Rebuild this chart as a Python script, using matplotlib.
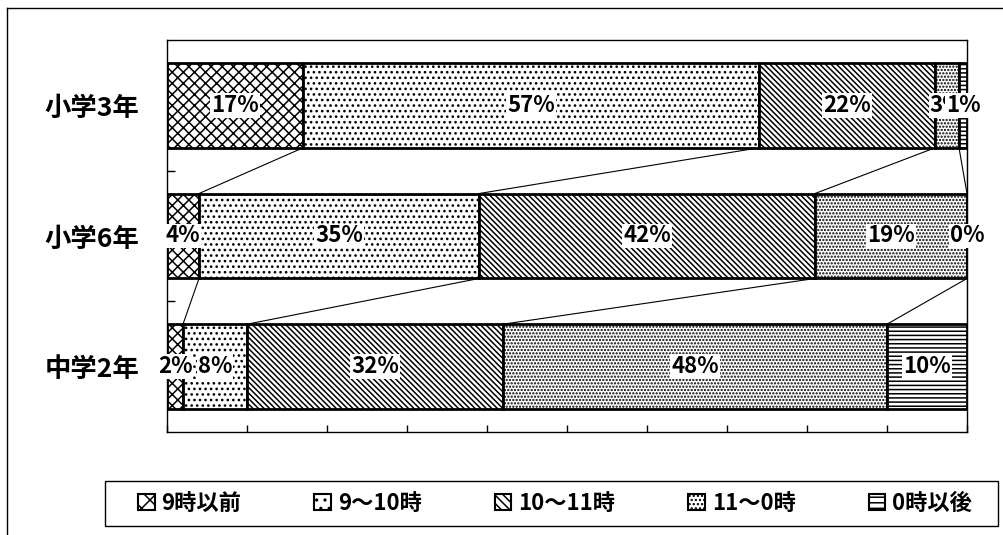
import matplotlib
matplotlib.use('Agg')
import matplotlib.pyplot as plt
from matplotlib.patches import Patch, Rectangle
from matplotlib.lines import Line2D
import numpy as np

plt.rcParams['font.family'] = ['Noto Sans CJK JP', 'DejaVu Sans']
plt.rcParams['hatch.linewidth'] = 1.1
plt.rcParams['hatch.color'] = 'black'

# ---- data ----
categories = ['小学3年', '小学6年', '中学2年']
series_names = ['9時以前', '9～10時', '10～11時', '11～0時', '0時以後']
v_before9 = [17, 4, 2]
v_9_10 = [57, 35, 8]
v_10_11 = [22, 42, 32]
v_11_0 = [3, 19, 48]
v_after0 = [1, 0, 10]
x_ticks = list(range(0, 101, 10))

series = [v_before9, v_9_10, v_10_11, v_11_0, v_after0]
hatches = ['xxx', '...', '\\\\\\\\\\\\', '.....', '----']

W, H = 1004, 535
fig = plt.figure(figsize=(W / 100, H / 100), dpi=100)
ax = fig.add_axes([167 / W, 1 - 432 / H, 800 / W, 392 / H])

y = np.arange(len(categories))
bh = 0.65
left = np.zeros(len(categories))
cum_edges = []
for vals, hatch in zip(series, hatches):
    vals = np.array(vals, dtype=float)
    ax.barh(y, vals, left=left, height=bh, color='white', edgecolor='black',
            hatch=hatch, linewidth=2.0, zorder=2)
    left = left + vals
    cum_edges.append(left.copy())

# series lines
for edges in cum_edges:
    for i in range(len(categories) - 1):
        ax.plot([edges[i], edges[i + 1]], [i + bh / 2, i + 1 - bh / 2],
                color='black', lw=0.8, zorder=1)

# data labels
left = np.zeros(len(categories))
for vals in series:
    for i, v in enumerate(vals):
        ax.text(left[i] + v / 2, y[i], f'{v}%', ha='center', va='center',
                fontsize=16, fontweight='bold', zorder=5,
                bbox=dict(facecolor='white', edgecolor='none', pad=0.6))
    left = left + np.array(vals)

ax.set_xlim(0, 100)
ax.set_ylim(len(categories) - 0.5, -0.5)
ax.set_xticks(x_ticks)
ax.set_xticklabels([])
ax.tick_params(axis='x', direction='in', length=5, width=1)
ax.set_yticks(y)
ax.set_yticklabels(categories, fontsize=19, fontweight='bold')
ax.set_yticks([0.5, 1.5], minor=True)
ax.tick_params(axis='y', which='major', length=0, pad=20)
ax.tick_params(axis='y', which='minor', direction='in', length=6, width=1)
for s in ax.spines.values():
    s.set_linewidth(1.0)
    s.set_color('black')

# legend box
fig.add_artist(Rectangle((105 / W, 1 - 526 / H), 893 / W, 45 / H,
                         transform=fig.transFigure, facecolor='white',
                         edgecolor='black', lw=1.0))
handles = [Patch(facecolor='white', edgecolor='black', hatch=h, linewidth=1.5)
           for h in ['xx', '..', '\\\\\\\\', '....', '---']]
leg = fig.legend(handles, series_names, loc='center',
                 bbox_to_anchor=(138 / W, 1 - 526 / H, 834 / W, 45 / H),
                 mode='expand', ncol=5, frameon=False,
                 handlelength=0.75, handleheight=0.75,
                 handletextpad=0.3, borderaxespad=0, borderpad=0,
                 prop={'size': 16, 'weight': 'bold'})
leg.set_zorder(5)

# outer frame (partially visible in reference)
fig.add_artist(Line2D([7 / W, 7 / W], [0, 1 - 8 / H], transform=fig.transFigure,
                      color='black', lw=1.0))
fig.add_artist(Line2D([7 / W, 1], [1 - 8 / H, 1 - 8 / H], transform=fig.transFigure,
                      color='black', lw=1.0))

fig.savefig('out.png', dpi=100)
